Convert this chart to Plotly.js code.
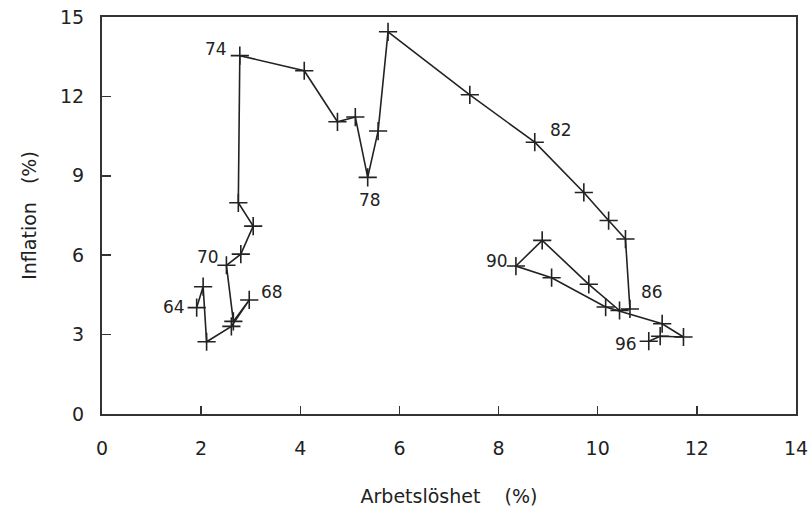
<!DOCTYPE html>
<html>
<head>
<meta charset="utf-8">
<script src="https://cdn.plot.ly/plotly-3.0.1.min.js"></script>
<style>html,body{margin:0;padding:0;background:#fff}#chart{width:809px;height:507px}</style>
</head>
<body>
<div id="chart"></div>
<script>
// Year-by-year unemployment (x, %) and inflation (y, %), 1964–1996
const years = [64,65,66,67,68,69,70,71,72,73,74,75,76,77,78,79,80,81,82,83,84,85,86,87,88,89,90,91,92,93,94,95,96];
const unemployment = [1.91,2.04,2.11,2.61,2.97,2.65,2.51,2.80,3.05,2.75,2.78,4.08,4.75,5.11,5.36,5.57,5.77,7.42,8.73,9.72,10.22,10.56,10.65,10.44,9.82,8.88,8.35,9.07,10.16,11.30,11.73,11.26,11.03];
const inflation = [4.02,4.81,2.73,3.31,4.31,3.50,5.62,6.04,7.10,7.98,13.54,12.97,11.04,11.22,8.94,10.69,14.44,12.06,10.27,8.37,7.31,6.61,3.97,3.91,4.90,6.56,5.59,5.15,4.04,3.41,2.91,2.94,2.75];
const labelYears = [64,68,70,74,78,82,86,90,96];
const labelShift = {64:[-23,1],68:[23,8],70:[-18,8],74:[-24,7],78:[2,-23],82:[26,12],86:[22,17],90:[-19,5],96:[-23,-3]};

const font = "'DejaVu Sans', 'Liberation Sans', sans-serif";
const ink = '#222';
const annotations = labelYears.map(yr => {
  const i = years.indexOf(yr);
  return {x: unemployment[i], y: inflation[i], text: String(yr), showarrow: false,
    xshift: labelShift[yr][0], yshift: labelShift[yr][1],
    font: {family: font, size: 17, color: ink}};
});

const trace = {
  x: unemployment, y: inflation, text: years.map(String),
  mode: 'lines+markers', type: 'scatter',
  line: {color: ink, width: 1.6},
  marker: {symbol: 'cross-thin', size: 13, line: {color: ink, width: 1.6}, color: ink},
  hoverinfo: 'x+y+text'
};

const layout = {
  width: 809, height: 507,
  margin: {l: 102, r: 13, t: 17, b: 93},
  paper_bgcolor: '#fff', plot_bgcolor: '#fff',
  showlegend: false,
  font: {family: font, size: 19, color: ink},
  xaxis: {
    range: [0, 14], tickvals: [0,2,4,6,8,10,12,14], ticks: 'inside', ticklen: 8, tickwidth: 1.5, tickcolor: '#333',
    showline: true, linecolor: '#333', linewidth: 2, mirror: true, showgrid: false, zeroline: false,
    ticklabelstandoff: 16,
    tickfont: {family: font, size: 19, color: ink},
    title: {text: 'Arbetslöshet\u00a0\u00a0\u00a0\u00a0(%)', standoff: 32, font: {family: font, size: 19, color: ink}}
  },
  yaxis: {
    range: [0, 15], tickvals: [0,3,6,9,12,15], ticks: 'inside', ticklen: 9, tickwidth: 1.5, tickcolor: '#333',
    showline: true, linecolor: '#333', linewidth: 2, mirror: true, showgrid: false, zeroline: false,
    ticklabelstandoff: 12,
    tickfont: {family: font, size: 19, color: ink},
    title: {text: 'Inflation\u00a0\u00a0\u00a0(%)', standoff: 18, font: {family: font, size: 19, color: ink}}
  },
  annotations: annotations
};

Plotly.newPlot('chart', [trace], layout, {displayModeBar: false, staticPlot: true});
</script>
</body>
</html>
